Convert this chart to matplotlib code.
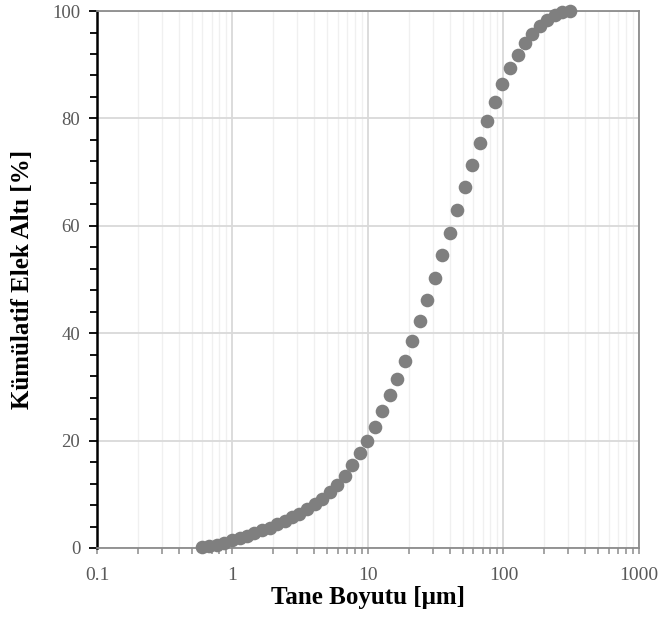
import matplotlib
matplotlib.use("Agg")
import matplotlib.pyplot as plt
from matplotlib.ticker import LogLocator, MultipleLocator, FixedLocator, NullFormatter

# particle size (um) and cumulative passing (%)
SIZE = [0.594, 0.675, 0.767, 0.872, 0.991, 1.13, 1.28, 1.45, 1.65, 1.88,
        2.13, 2.42, 2.75, 3.12, 3.55, 4.03, 4.58, 5.21, 5.92, 6.72,
        7.64, 8.68, 9.86, 11.2, 12.7, 14.5, 16.4, 18.7, 21.2, 24.1,
        27.4, 31.1, 35.3, 40.1, 45.6, 51.8, 58.9, 66.9, 76.0, 86.4,
        98.1, 111, 127, 144, 163, 186, 211, 240, 272, 310]
PASSING = [0.1, 0.35, 0.65, 1.0, 1.4, 1.8, 2.3, 2.8, 3.3, 3.8,
           4.4, 5.0, 5.7, 6.4, 7.2, 8.1, 9.2, 10.4, 11.8, 13.4,
           15.4, 17.6, 19.9, 22.5, 25.5, 28.4, 31.5, 34.8, 38.5, 42.2,
           46.1, 50.3, 54.5, 58.7, 62.9, 67.2, 71.4, 75.5, 79.5, 83.1,
           86.4, 89.4, 91.9, 94.1, 95.8, 97.2, 98.3, 99.2, 99.8, 100.0]
X_TICKS = [0.1, 1, 10, 100, 1000]
X_TICK_LABELS = ["0.1", "1", "10", "100", "1000"]
Y_TICKS = [0, 20, 40, 60, 80, 100]

FONT = "Liberation Serif"
TICK_GREY = "#595959"

fig = plt.figure(figsize=(6.63, 6.23), dpi=100)
ax = fig.add_axes([0.1463, 0.1204, 0.8175, 0.8619])

ax.set_xscale("log")
ax.set_xlim(0.1, 1000)
ax.set_ylim(0, 100)

ax.plot(SIZE, PASSING, "o", color="#7f7f7f", markersize=9.8,
        markeredgewidth=0, zorder=3, clip_on=False)

# ticks / grid (Excel-like)
ax.xaxis.set_major_locator(FixedLocator(X_TICKS))
ax.set_xticklabels(X_TICK_LABELS)
ax.xaxis.set_minor_locator(LogLocator(base=10, subs=range(2, 10)))
ax.xaxis.set_minor_formatter(NullFormatter())
ax.yaxis.set_major_locator(FixedLocator(Y_TICKS))
ax.yaxis.set_minor_locator(MultipleLocator(4))

ax.grid(True, which="major", color="#d9d9d9", lw=1.3, zorder=0)
ax.grid(True, which="minor", axis="x", color="#f0f0f0", lw=1.0, zorder=0)
ax.set_axisbelow(True)

for side in ("top", "right", "bottom"):
    ax.spines[side].set_color("#8c8c8c")
    ax.spines[side].set_linewidth(1.3)
ax.spines["left"].set_color("black")
ax.spines["left"].set_linewidth(1.8)

ax.tick_params(axis="y", which="both", direction="out", color="black",
               width=1.3, labelcolor=TICK_GREY, labelsize=13.5)
ax.tick_params(axis="y", which="major", length=6, pad=6)
ax.tick_params(axis="y", which="minor", length=5)
ax.tick_params(axis="x", which="both", direction="out", color="#8c8c8c",
               width=1.1, length=4, labelcolor=TICK_GREY, labelsize=14, pad=10)

for lab in ax.get_xticklabels() + ax.get_yticklabels():
    lab.set_family(FONT)

ax.set_xlabel("Tane Boyutu [μm]", family=FONT, fontsize=18,
              fontweight="bold", labelpad=1)
ax.set_ylabel("Kümülatif Elek Altı [%]", family=FONT, fontsize=18,
              fontweight="bold", labelpad=13)

fig.savefig("out.png", dpi=100)
